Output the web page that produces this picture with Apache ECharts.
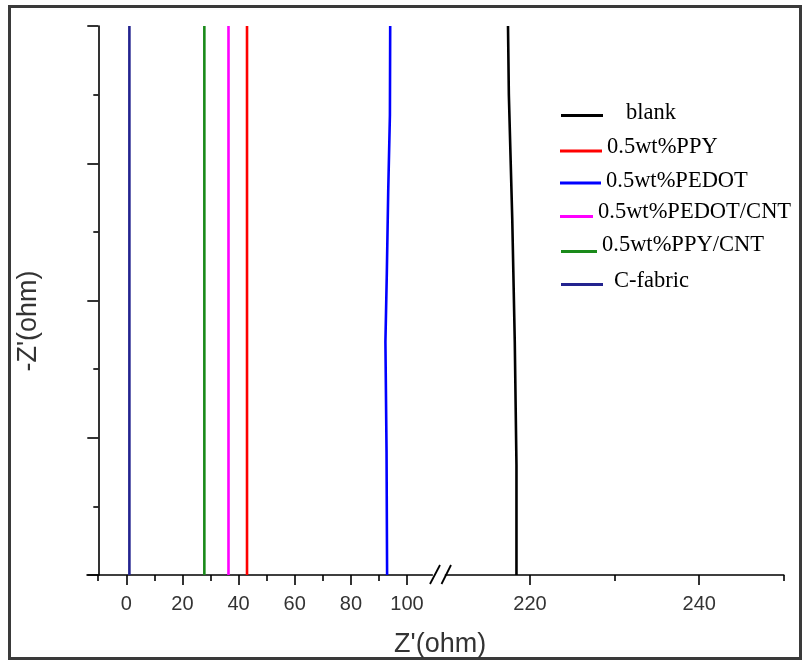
<!DOCTYPE html>
<html>
<head>
<meta charset="utf-8">
<script src="https://cdn.jsdelivr.net/npm/echarts@6/dist/echarts.min.js"></script>
<style>html,body{margin:0;padding:0;background:#fff}#c{width:805px;height:662px}</style>
</head>
<body>
<div id="c"></div>
<script>
// ---- data ----
const seriesNames = ['blank', '0.5wt%PPY', '0.5wt%PEDOT', '0.5wt%PEDOT/CNT', '0.5wt%PPY/CNT', 'C-fabric'];
const seriesColors = ['#000000', '#ff0000', '#0000ff', '#ff00ff', '#1a8a1a', '#23238f'];
// Z' (x) and -Z'' (y, arbitrary units, unlabeled axis)
const blankX = [217.4, 217.5, 217.9, 218.2, 218.4, 218.4];
const blankY = [4, 3.5, 2.6, 1.7, 0.8, 0];
const ppyX = [43.0, 43.0];
const ppyY = [0, 4];
const pedotX = [94.0, 93.9, 93.3, 92.8, 92.3, 92.7, 92.9];
const pedotY = [4, 3.35, 2.8, 2.2, 1.7, 0.9, 0];
const pedotCntX = [36.4, 36.4];
const pedotCntY = [0, 4];
const ppyCntX = [27.8, 27.8];
const ppyCntY = [0, 4];
const cfabricX = [1.1, 1.1];
const cfabricY = [0, 4];
const leftMajorTicks = [0, 20, 40, 60, 80, 100];
const leftMinorTicks = [-10, 10, 30, 50, 70, 90];
const rightMajorTicks = [220, 240];
const rightMinorTicks = [230, 250];

const xs = [blankX, ppyX, pedotX, pedotCntX, ppyCntX, cfabricX];
const ys = [blankY, ppyY, pedotY, pedotCntY, ppyCntY, cfabricY];
const onRight = [true, false, false, false, false, false];

const chart = echarts.init(document.getElementById('c'), null, {renderer: 'canvas'});

const axisLineStyle = {color: '#000', width: 1.6};
const tickLabel = {fontFamily: 'Liberation Sans', fontSize: 20, color: '#333', margin: 19};

// legend layout (per item)
const legLayout = [
  {top: 101.5, w: 42, pl: 18, pb: 5, left: 561},
  {top: 135.5, w: 42, pl: 0, pb: 8, left: 560},
  {top: 170, w: 41, pl: 0, pb: 3, left: 560},
  {top: 201, w: 33, pl: 0, pb: 8, left: 560},
  {top: 234, w: 36, pl: 0, pb: 12, left: 561},
  {top: 270, w: 42, pl: 6, pb: 6, left: 561}
];

const legends = seriesNames.map((n, i) => ({
  data: [n],
  left: legLayout[i].left,
  top: legLayout[i].top,
  padding: 0,
  icon: 'rect',
  itemWidth: legLayout[i].w,
  itemHeight: 3,
  selectedMode: false,
  formatter: name => '{t|' + name + '}',
  textStyle: {
    rich: {
      t: {fontFamily: 'Liberation Serif', fontSize: 22.5, lineHeight: 22, color: '#000',
          padding: [0, 0, legLayout[i].pb, legLayout[i].pl]}
    }
  }
}));

const series = seriesNames.map((n, i) => ({
  name: n,
  type: 'line',
  xAxisIndex: onRight[i] ? 2 : 0,
  yAxisIndex: onRight[i] ? 1 : 0,
  showSymbol: false,
  symbol: 'none',
  animation: false,
  color: seriesColors[i],
  lineStyle: {color: seriesColors[i], width: 2.6},
  data: xs[i].map((x, k) => [x, ys[i][k]])
}));

const option = {
  animation: false,
  backgroundColor: '#fff',
  legend: legends,
  title: {
    text: "Z'(ohm)",
    left: 394, top: 631, padding: 0,
    textStyle: {fontFamily: 'Liberation Sans', fontSize: 27, fontWeight: 'normal', color: '#333'}
  },
  grid: [
    {left: 87, top: 26, width: 345.3, height: 549},
    {left: 445.4, top: 26, width: 338.4, height: 549}
  ],
  xAxis: [
    {gridIndex: 0, type: 'value', position: 'bottom', min: -14, max: 109,
     axisLine: {lineStyle: axisLineStyle, onZero: false},
     axisTick: {length: 10, lineStyle: axisLineStyle, customValues: leftMajorTicks},
     axisLabel: Object.assign({customValues: leftMajorTicks}, tickLabel),
     splitLine: {show: false}},
    {gridIndex: 0, type: 'value', position: 'bottom', min: -14, max: 109,
     axisLine: {show: false, onZero: false},
     axisTick: {length: 6, lineStyle: axisLineStyle, customValues: leftMinorTicks},
     axisLabel: {show: false, customValues: leftMinorTicks},
     splitLine: {show: false}},
    {gridIndex: 1, type: 'value', position: 'bottom', min: 210, max: 250,
     axisLine: {lineStyle: axisLineStyle, onZero: false},
     axisTick: {length: 10, lineStyle: axisLineStyle, customValues: rightMajorTicks},
     axisLabel: Object.assign({customValues: rightMajorTicks}, tickLabel),
     splitLine: {show: false}},
    {gridIndex: 1, type: 'value', position: 'bottom', min: 210, max: 250,
     axisLine: {show: false, onZero: false},
     axisTick: {length: 6, lineStyle: axisLineStyle, customValues: rightMinorTicks},
     axisLabel: {show: false, customValues: rightMinorTicks},
     splitLine: {show: false}}
  ],
  yAxis: [
    {gridIndex: 0, type: 'value', min: 0, max: 4, interval: 1, offset: -11.3,
     axisLine: {show: true, lineStyle: axisLineStyle, onZero: false},
     axisTick: {show: true, length: 11, lineStyle: axisLineStyle},
     minorTick: {show: true, splitNumber: 2, length: 5, lineStyle: axisLineStyle},
     axisLabel: {show: false},
     splitLine: {show: false}},
    {gridIndex: 1, type: 'value', min: 0, max: 4, show: false, splitLine: {show: false}}
  ],
  graphic: [
    {type: 'rect', shape: {x: 9.5, y: 6.5, width: 791, height: 652},
     style: {fill: null, stroke: '#3a3a3a', lineWidth: 3}, silent: true},
    {type: 'line', shape: {x1: 430, y1: 584, x2: 440, y2: 565}, style: {stroke: '#000', lineWidth: 1.8}},
    {type: 'line', shape: {x1: 441.5, y1: 584, x2: 451, y2: 565}, style: {stroke: '#000', lineWidth: 1.8}},
    {type: 'text', x: 29, y: 321, rotation: Math.PI / 2,
     style: {text: "-Z'(ohm)", font: '27px "Liberation Sans"', fill: '#333', align: 'center', verticalAlign: 'middle'}}
  ],
  series: series
};
chart.setOption(option);
</script>
</body>
</html>
